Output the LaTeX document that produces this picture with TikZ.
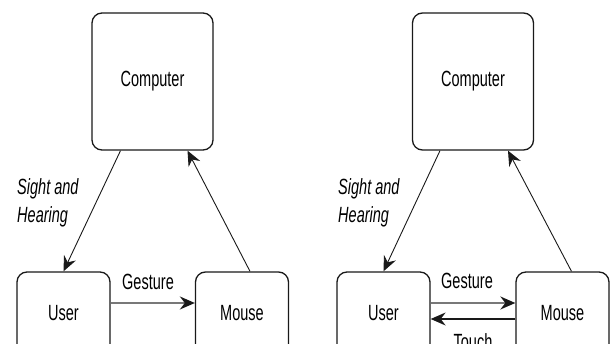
\documentclass[tikz,border=0pt]{standalone}
\usepackage{fontspec}
\usepackage{tikz}
\usetikzlibrary{
    arrows.meta,
    positioning,
    calc
}
\newfontfamily\diafont[FakeStretch=0.66]{Liberation Sans}
\definecolor{lineGray}{RGB}{120,120,120}
\definecolor{inkDark}{RGB}{25,25,25}

\begin{document}
\begin{tikzpicture}[
  x=1pt, y=-1pt,
  pbox/.style={
    draw=inkDark, line width=1.3pt, rounded corners=10pt, inner sep=0pt,
    font=\diafont\fontsize{22}{28}\selectfont, align=center},
  big/.style={pbox, minimum width=121pt, minimum height=137pt},
  small/.style={pbox, minimum width=93pt, minimum height=82pt},
  lbl/.style={font=\diafont\fontsize{22}{28}\selectfont, inner sep=0pt},
  arr/.style={-{Stealth[length=15pt, width=13pt, inset=5pt, color=inkDark]}, line width=0.9pt, inkDark},
  garr/.style={-{Stealth[length=15pt, width=13pt, inset=5pt, color=inkDark]}, line width=2pt, lineGray},
  tarr/.style={-{Stealth[length=15pt, width=13pt, inset=5pt, color=inkDark]}, line width=1.4pt, inkDark}
]
\clip (0,0) rectangle (611,344);

%% left: one-way loop
\node[big]   (compA)  at (152.5, 81.5) {Computer};
\node[small] (userA)  at (63.5, 313)   {User};
\node[small] (mouseA) at (242, 313)    {Mouse};

\node[lbl, anchor=west, align=left] (seeA) at (17, 203) {\itshape Sight and\\\itshape Hearing};
\node[lbl] (gestA) at (148, 282) {Gesture};

\draw[arr]  ([xshift=-32pt]compA.south) -- (userA.north);
\draw[arr]  ([xshift=8pt]mouseA.north) -- ([xshift=35pt]compA.south);
\draw[garr] ([yshift=10pt]userA.east) -- ([yshift=10pt]mouseA.west);

%% right: with touch feedback
\node[big]   (compB)  at (473, 81.5)   {Computer};
\node[small] (userB)  at (383.5, 313)  {User};
\node[small] (mouseB) at (562.5, 313)  {Mouse};

\node[lbl, anchor=west, align=left] (seeB) at (338, 203) {\itshape Sight and\\\itshape Hearing};
\node[lbl] (gestB)  at (467, 281) {Gesture};
\node[lbl] (touchB) at (473, 342) {Touch};

\draw[arr]  ([xshift=-33pt]compB.south) -- (userB.north);
\draw[arr]  ([xshift=9pt]mouseB.north) -- ([xshift=35pt]compB.south);
\draw[garr] ([yshift=10pt]userB.east) -- ([yshift=10pt]mouseB.west);
\draw[tarr] ([yshift=-6pt]mouseB.west) -- ([yshift=-6pt]userB.east);

\end{tikzpicture}
\end{document}
